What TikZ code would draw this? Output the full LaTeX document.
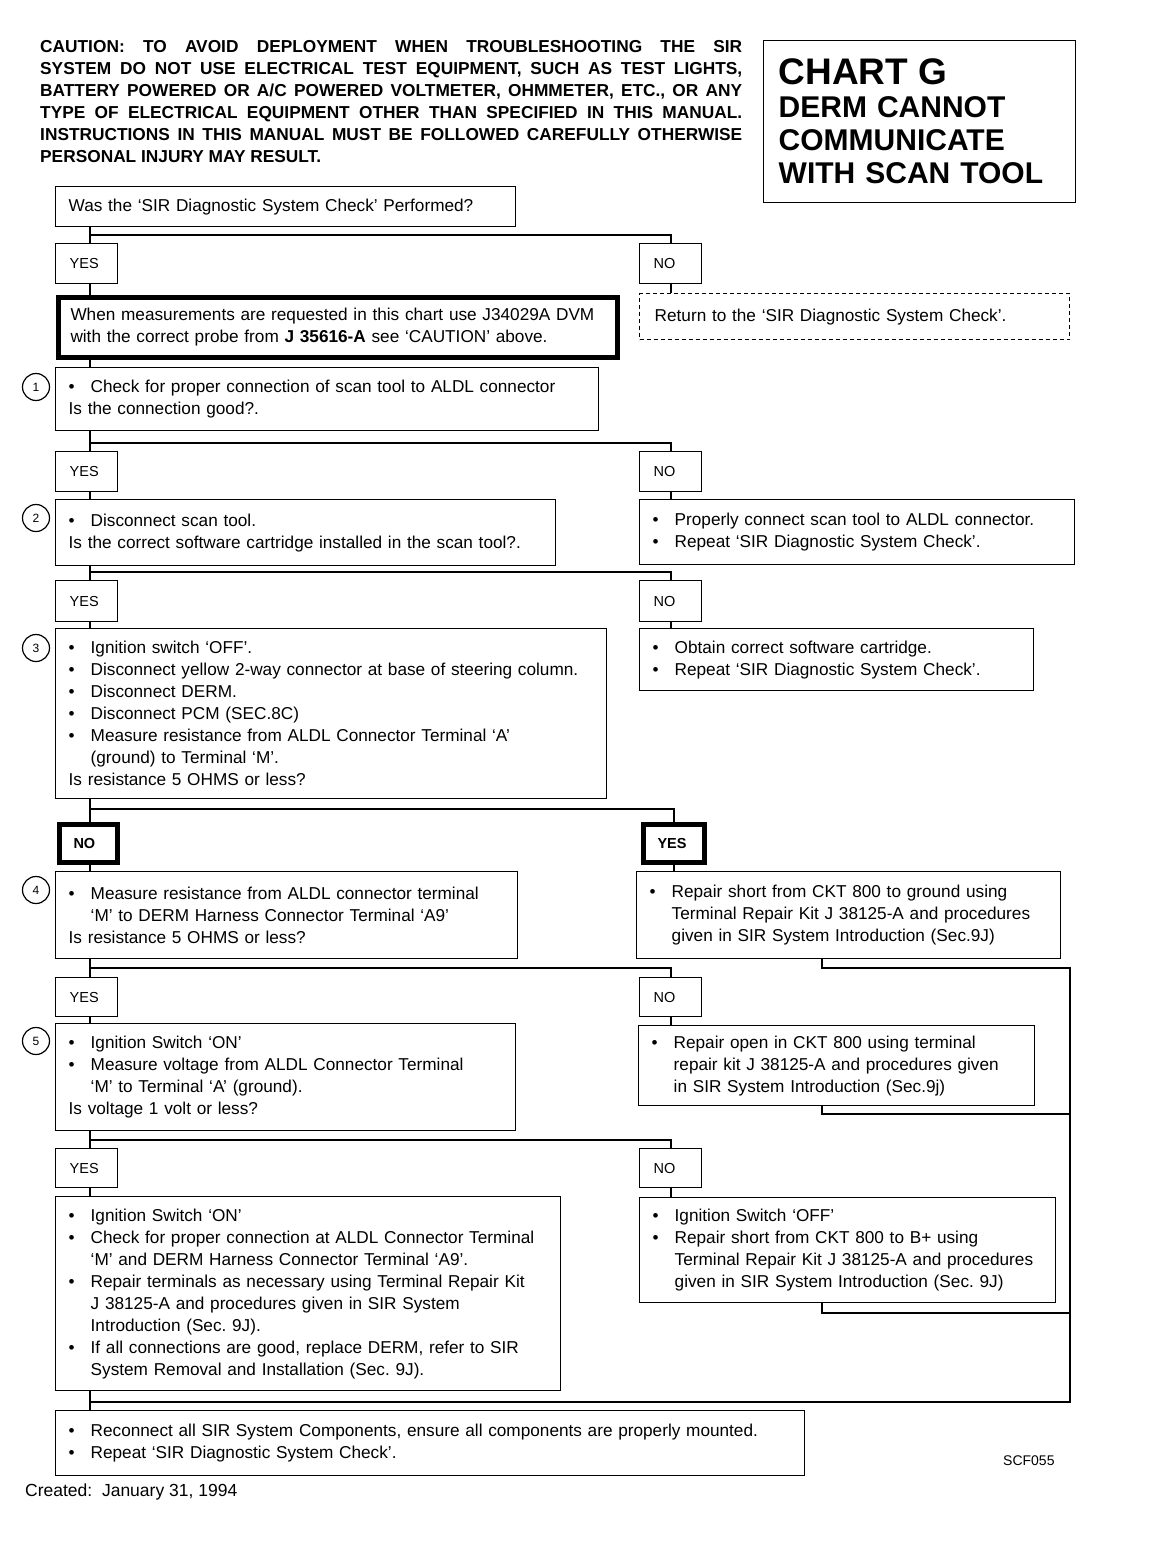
\documentclass[tikz,border=0pt]{standalone}
\usepackage{fontspec}
\setmainfont{Liberation Sans}
\frenchspacing
\newcommand{\bul}{\makebox[22pt][l]{\textbullet}}
\newcommand{\ind}{\hspace*{22pt}}
\newcommand{\nohyph}{\hyphenpenalty=10000\relax}
\tikzset{
  box/.style 2 args={draw, line width=1.4pt, anchor=north west, text width=#1,
    minimum height=#2, inner xsep=13pt, inner ysep=0pt, align=left,
    font=\fontsize{17.2}{22}\selectfont\nohyph},
  ans/.style={draw, line width=1.4pt, anchor=north west, text width=34pt,
    minimum height=40pt, inner xsep=14pt, inner ysep=0pt, align=left,
    font=\fontsize{14.5}{16}\selectfont},
  ansbold/.style={ans, line width=5pt, text width=30pt, minimum height=38pt,
    font=\fontsize{14.5}{16}\selectfont\bfseries},
  num/.style={draw, circle, line width=1.2pt, minimum size=27pt, inner sep=0pt,
    font=\fontsize{12}{12}\selectfont},
  conn/.style={line width=2.2pt}
}
\begin{document}
\begin{tikzpicture}[x=1pt,y=-1pt]
\useasboundingbox (0,0) rectangle (1152,1552);

\node[anchor=north west, inner sep=0pt, align=left,
  font=\fontsize{17.3}{22}\selectfont\bfseries] (caution) at (40,40)
  {\makebox[702pt][s]{CAUTION: TO AVOID DEPLOYMENT WHEN TROUBLESHOOTING THE SIR}\\
   \makebox[702pt][s]{SYSTEM DO NOT USE ELECTRICAL TEST EQUIPMENT, SUCH AS TEST LIGHTS,}\\
   \makebox[702pt][s]{BATTERY POWERED OR A/C POWERED VOLTMETER, OHMMETER, ETC., OR ANY}\\
   \makebox[702pt][s]{TYPE OF ELECTRICAL EQUIPMENT OTHER THAN SPECIFIED IN THIS MANUAL.}\\
   \makebox[702pt][s]{INSTRUCTIONS IN THIS MANUAL MUST BE FOLLOWED CAREFULLY OTHERWISE}\\
   PERSONAL INJURY MAY RESULT.};
\node[draw, line width=1.4pt, anchor=north west, text width=282pt, minimum height=162pt,
  inner xsep=15pt, inner ysep=0pt, align=left,
  font=\fontsize{30}{33}\selectfont\bfseries] (title) at (763,40)
  {{\fontsize{37}{37}\selectfont CHART G}\\DERM CANNOT\\COMMUNICATE\\WITH SCAN TOOL};

\node[box={434pt}{40pt}] (s0) at (55,186) {Was the ‘SIR Diagnostic System Check’ Performed?};
\node[ans] (la0) at (55,243) {YES};
\node[ans] (ra0) at (639,243) {NO};
\node[box={535pt}{60pt}, line width=5pt, inner xsep=12pt] (meas) at (56,295)
  {When measurements are requested in this chart use J34029A DVM\\
   with the correct probe from \textbf{J 35616-A} see ‘CAUTION’ above.};
\node[box={400pt}{46pt}, dash pattern=on 4pt off 3pt, inner xsep=15pt] (f1) at (639,293)
  {Return to the ‘SIR Diagnostic System Check’.};

\node[box={517pt}{63pt}] (s1) at (55,367)
  {\bul Check for proper connection of scan tool to ALDL connector\\
   Is the connection good?.};
\node[ans] (la1) at (55,451) {YES};
\node[ans] (ra1) at (639,451) {NO};

\node[box={474pt}{66pt}] (s2) at (55,499)
  {\bul Disconnect scan tool.\\
   Is the correct software cartridge installed in the scan tool?.};
\node[box={409pt}{65pt}] (f2) at (639,499)
  {\bul Properly connect scan tool to ALDL connector.\\
   \bul Repeat ‘SIR Diagnostic System Check’.};
\node[ans, minimum height=41pt] (la2) at (55,580) {YES};
\node[ans, minimum height=41pt] (ra2) at (639,580) {NO};

\node[box={525pt}{170pt}] (s3) at (55,628)
  {\bul Ignition switch ‘OFF’.\\
   \bul Disconnect yellow 2-way connector at base of steering column.\\
   \bul Disconnect DERM.\\
   \bul Disconnect PCM (SEC.8C)\\
   \bul Measure resistance from ALDL Connector Terminal ‘A’\\
   \ind (ground) to Terminal ‘M’.\\
   Is resistance 5 OHMS or less?};
\node[box={368pt}{62pt}] (f3) at (639,628)
  {\bul Obtain correct software cartridge.\\
   \bul Repeat ‘SIR Diagnostic System Check’.};
\node[ansbold] (la3) at (57,822) {NO};
\node[ansbold, text width=33pt] (ra3) at (641,822) {YES};

\node[box={436pt}{87pt}] (s4) at (55,871)
  {\bul Measure resistance from ALDL connector terminal\\
   \ind ‘M’ to DERM Harness Connector Terminal ‘A9’\\
   Is resistance 5 OHMS or less?};
\node[box={398pt}{87pt}] (f4) at (636,871)
  {\bul Repair short from CKT 800 to ground using\\
   \ind Terminal Repair Kit J 38125-A and procedures\\
   \ind given in SIR System Introduction (Sec.9J)};
\node[ans, minimum height=39pt] (la4) at (55,977) {YES};
\node[ans, minimum height=39pt] (ra4) at (639,977) {NO};

\node[box={434pt}{107pt}] (s5) at (55,1023)
  {\bul Ignition Switch ‘ON’\\
   \bul Measure voltage from ALDL Connector Terminal\\
   \ind ‘M’ to Terminal ‘A’ (ground).\\
   Is voltage 1 volt or less?};
\node[box={370pt}{80pt}] (f5) at (638,1025)
  {\bul Repair open in CKT 800 using terminal\\
   \ind repair kit J 38125-A and procedures given\\
   \ind in SIR System Introduction (Sec.9j)};
\node[ans, minimum height=39pt] (la5) at (55,1148) {YES};
\node[ans, minimum height=39pt] (ra5) at (639,1148) {NO};

\node[box={479pt}{194pt}] (s6) at (55,1196)
  {\bul Ignition Switch ‘ON’\\
   \bul Check for proper connection at ALDL Connector Terminal\\
   \ind ‘M’ and DERM Harness Connector Terminal ‘A9’.\\
   \bul Repair terminals as necessary using Terminal Repair Kit\\
   \ind J 38125-A and procedures given in SIR System\\
   \ind Introduction (Sec. 9J).\\
   \bul If all connections are good, replace DERM, refer to SIR\\
   \ind System Removal and Installation (Sec. 9J).};
\node[box={390pt}{105pt}] (f6) at (639,1197)
  {\bul Ignition Switch ‘OFF’\\
   \bul Repair short from CKT 800 to B+ using\\
   \ind Terminal Repair Kit J 38125-A and procedures\\
   \ind given in SIR System Introduction (Sec. 9J)};

\node[box={723pt}{65pt}] (fin) at (55,1410)
  {\bul Reconnect all SIR System Components, ensure all components are properly mounted.\\
   \bul Repeat ‘SIR Diagnostic System Check’.};

\foreach \i/\y in {1/387,2/518,3/648,4/890,5/1041}
{
    \node[num] (n\i) at (36,\y) {\i};
}

\node[anchor=west, inner sep=0pt, font=\fontsize{14}{16}\selectfont] (code) at (1003,1461) {SCF055};
\node[anchor=west, inner sep=0pt, font=\fontsize{17.5}{20}\selectfont] (created) at (25,1492)
  {Created:\ \ January 31, 1994};

\coordinate (b0) at (90,235);
\coordinate (b1) at (90,443);
\coordinate (b2) at (90,572);
\coordinate (b3) at (90,809);
\coordinate (b4) at (90,968);
\coordinate (b5) at (90,1140);
\coordinate (mx) at (822,968);
\coordinate (rt) at (1070,968);
\coordinate (r5) at (1070,1114);
\coordinate (r6) at (1070,1313);
\coordinate (rb) at (1070,1402);
\coordinate (jb) at (90,1402);

\draw[conn] (s0.south -| b0) -- (la0.north -| b0);
\draw[conn] (b0) -| (ra0.north);
\draw[conn] (la0.south -| b0) -- (meas.north -| b0);
\draw[conn] (ra0.south) -- (f1.north -| ra0.south);
\draw[conn] (meas.south -| b0) -- (s1.north -| b0);
\foreach \k/\n in {1/2,2/3,3/4,4/5,5/6}
{
    \draw[conn] (s\k.south -| b\k) -- (la\k.north -| b\k);
    \draw[conn] (b\k) -| (ra\k.north);
    \draw[conn] (la\k.south -| b\k) -- (s\n.north -| b\k);
    \draw[conn] (ra\k.south) -- (f\n.north -| ra\k.south);
}
\draw[conn] (f4.south -| mx) -- (mx) -- (rt) -- (rb) -- (jb);
\draw[conn] (f5.south -| mx) |- (r5);
\draw[conn] (f6.south -| mx) |- (r6);
\draw[conn] (s6.south -| b0) -- (fin.north -| b0);
\end{tikzpicture}
\end{document}
